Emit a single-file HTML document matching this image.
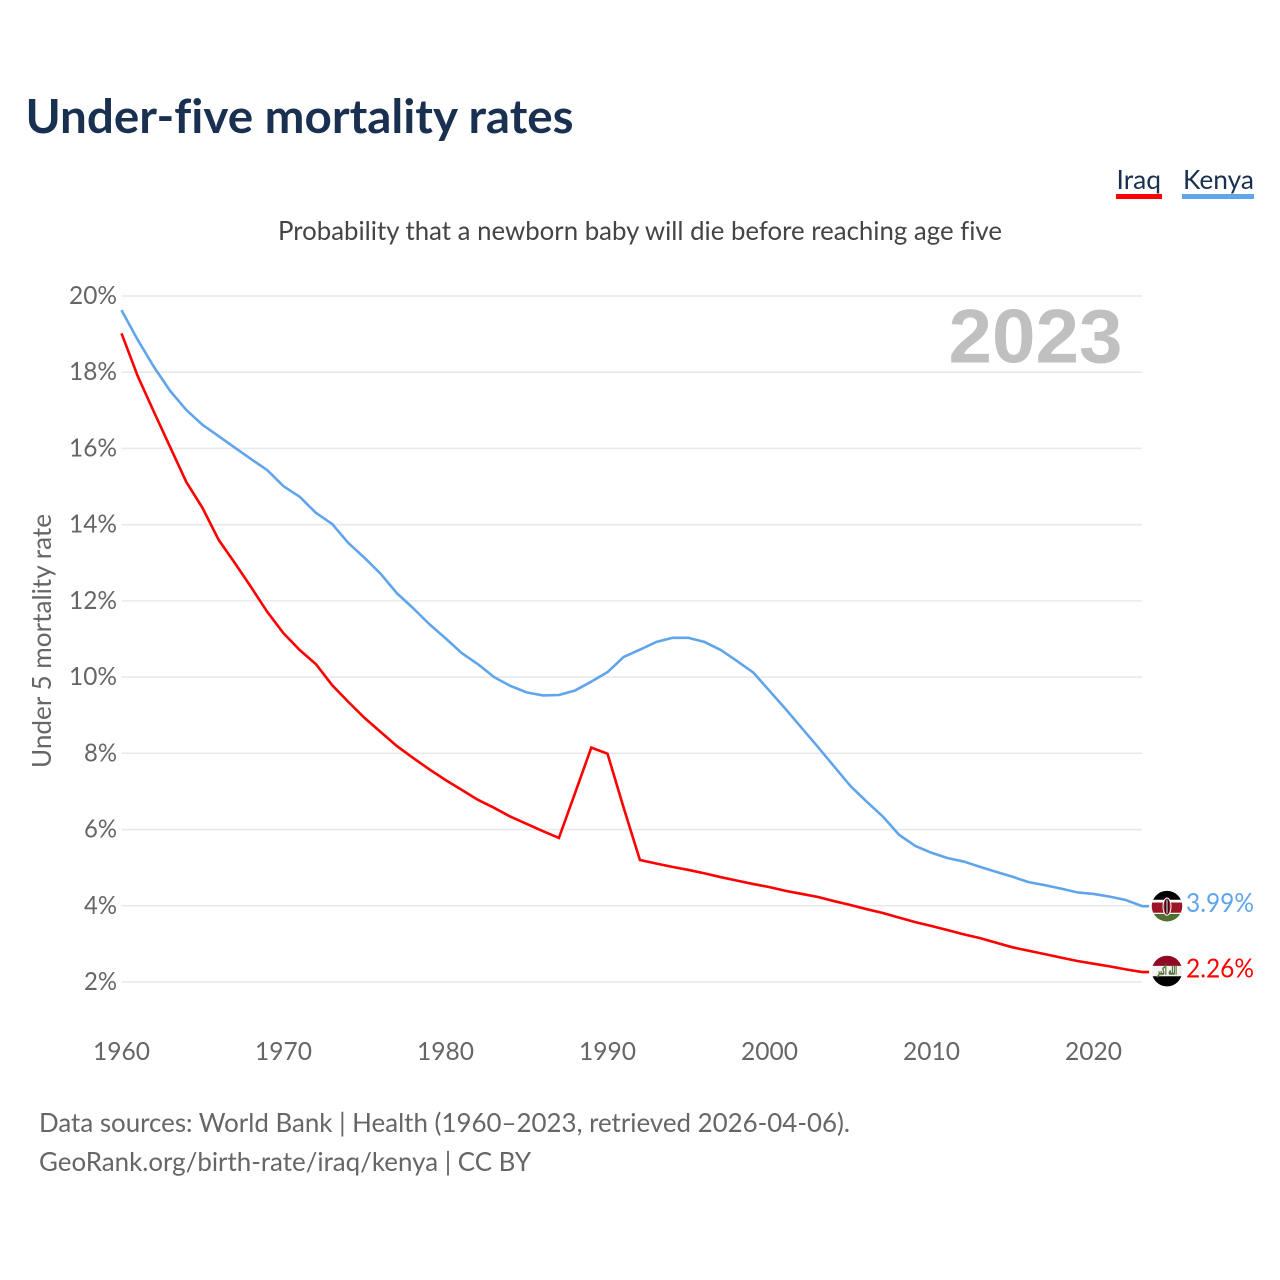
<!DOCTYPE html>
<html lang="en">
<head>
<meta charset="utf-8">
<title>Under-five mortality rates</title>
<style>
html,body{margin:0;padding:0;background:#fff;width:1280px;height:1280px;overflow:hidden}
svg{display:block}
text{font-family:"Lato","Carlito","Liberation Sans","DejaVu Sans",sans-serif;font-variant-ligatures:none;font-feature-settings:"liga" 0}
text.year{font-family:"Liberation Sans",sans-serif}
text.takbir{font-family:"DejaVu Sans",sans-serif}
</style>
</head>
<body>
<svg id="chart" xmlns="http://www.w3.org/2000/svg" width="1280" height="1280" viewBox="0 0 1280 1280">
  <defs>
    <clipPath id="flag-clip"><circle cx="0" cy="0" r="15.3"></circle></clipPath>
  </defs>
  <rect x="0" y="0" width="1280" height="1280" fill="#fff"></rect>
  <text x="25.5" y="133" font-size="46.5" font-weight="700" fill="#1a3050" textLength="548" lengthAdjust="spacingAndGlyphs">Under-five mortality rates</text>
  <text x="278" y="240" font-size="26.5" fill="#444" textLength="724" lengthAdjust="spacingAndGlyphs">Probability that a newborn baby will die before reaching age five</text>

  <g>
    <text x="1116.5" y="189" font-size="26.5" fill="#1a3050" textLength="44.5" lengthAdjust="spacingAndGlyphs">Iraq</text>
    <rect x="1116" y="194" width="46" height="5" fill="#ff0000"></rect>
  </g>
  <g>
    <text x="1183" y="189" font-size="26.5" fill="#1a3050" textLength="71" lengthAdjust="spacingAndGlyphs">Kenya</text>
    <rect x="1182" y="194" width="72" height="5" fill="#60a5ec"></rect>
  </g>

  <g id="grid"></g>
  <g id="y-ticks"></g>
  <g id="x-ticks"></g>
  <text class="year" x="948.5" y="362.5" font-size="76" font-weight="700" fill="#c0c0c0" textLength="174" lengthAdjust="spacingAndGlyphs">2023</text>
  <text transform="translate(51 768) rotate(-90)" x="0" y="0" font-size="26.5" fill="#666" textLength="254" lengthAdjust="spacingAndGlyphs">Under 5 mortality rate</text>

  <g id="series"></g>

  <g id="flag-kenya">
    <g clip-path="url(#flag-clip)">
      <rect x="-16" y="-16" width="32" height="32" fill="#fff"></rect>
      <rect x="-16" y="-16" width="32" height="9.6" fill="#000"></rect>
      <rect x="-16" y="-3.6" width="32" height="10.2" fill="#9b1626"></rect>
      <rect x="-16" y="7.8" width="32" height="8.2" fill="#4f7031"></rect>
      <ellipse cx="0" cy="0.5" rx="4" ry="8.6" fill="#9b1626" stroke="#fff" stroke-width="1"></ellipse>
      <rect x="-1.6" y="-6" width="3.2" height="13" fill="#000"></rect>
      <rect x="-0.5" y="-6" width="1" height="13" fill="#fff"></rect>
    </g>
  </g>
  <g id="flag-iraq">
    <g clip-path="url(#flag-clip)">
      <rect x="-16" y="-16" width="32" height="11" fill="#8f0a24"></rect>
      <rect x="-16" y="-5.2" width="32" height="10.6" fill="#f2f2f0"></rect>
      <rect x="-16" y="5.2" width="32" height="11" fill="#000"></rect>
      <text class="takbir" x="0" y="3.4" text-anchor="middle" direction="rtl" font-size="11" font-weight="700" fill="#4f7031" stroke="#4f7031" stroke-width="0.4" textLength="20" lengthAdjust="spacingAndGlyphs">الله أكبر</text>
    </g>
  </g>
  <g id="end-labels"></g>

  <text x="39" y="1132" font-size="26.5" fill="#666" textLength="811" lengthAdjust="spacingAndGlyphs">Data sources: World Bank | Health (1960–2023, retrieved 2026-04-06).</text>
  <text x="39" y="1171" font-size="26.5" fill="#666" textLength="492" lengthAdjust="spacingAndGlyphs">GeoRank.org/birth-rate/iraq/kenya | CC BY</text>
</svg>
<script>
const startYear = 1960;
const yTickValues = [20, 18, 16, 14, 12, 10, 8, 6, 4, 2];
const xTickYears = [1960, 1970, 1980, 1990, 2000, 2010, 2020];
const kenyaValues = [
  19.63,18.85,18.14,17.51,17.01,16.62,16.32,16.02,15.72,15.43,
  15.01,14.73,14.31,14.02,13.52,13.13,12.71,12.20,11.81,11.39,
  11.02,10.63,10.34,10.00,9.77,9.60,9.52,9.53,9.65,9.88,
  10.13,10.53,10.72,10.92,11.03,11.03,10.92,10.71,10.42,10.12,
  9.64,9.16,8.66,8.16,7.65,7.14,6.73,6.34,5.86,5.57,
  5.39,5.25,5.16,5.02,4.89,4.76,4.62,4.54,4.45,4.35,
  4.31,4.24,4.15,3.99
];
const iraqValues = [
  19.02,17.90,16.96,16.04,15.12,14.44,13.60,12.99,12.36,11.71,
  11.15,10.71,10.34,9.79,9.35,8.93,8.56,8.19,7.88,7.58,
  7.30,7.04,6.78,6.57,6.34,6.15,5.96,5.78,6.96,8.15,
  7.99,6.57,5.20,5.11,5.02,4.94,4.85,4.75,4.66,4.57,
  4.49,4.39,4.31,4.23,4.12,4.02,3.91,3.81,3.69,3.57,
  3.47,3.36,3.25,3.15,3.03,2.91,2.82,2.73,2.64,2.55,
  2.48,2.41,2.33,2.26
];

const NS = 'http://www.w3.org/2000/svg';
const xScale = function (year) { return 121.5 + (year - 1960) * 16.2; };
const yScale = function (v) { return 296 + (20 - v) * 38.11; };
const lastYear = startYear + kenyaValues.length - 1;

function make(tag, parent, attrs, content) {
  const el = document.createElementNS(NS, tag);
  Object.keys(attrs).forEach(function (k) { el.setAttribute(k, attrs[k]); });
  if (content !== undefined) el.textContent = content;
  parent.appendChild(el);
  return el;
}

const grid = document.getElementById('grid');
const yTicks = document.getElementById('y-ticks');
yTickValues.forEach(function (v) {
  const line = make('line', grid, { x1: xScale(1960), x2: xScale(lastYear), y1: yScale(v), y2: yScale(v), stroke: '#e9e9e9', 'stroke-width': 1.6 });
  
  
  const s = v + '%';
  const label = make('text', yTicks, { x: 117 - (s.length === 3 ? 48 : 33), y: yScale(v) + 8, 'font-size': 25.5, fill: '#666', textLength: s.length === 3 ? 48 : 33, lengthAdjust: 'spacingAndGlyphs' }, s);
  
  
});

const xTicks = document.getElementById('x-ticks');
xTickYears.forEach(function (yr) {
  const label = make('text', xTicks, { x: xScale(yr) - 28.5, y: 1060, 'font-size': 25.5, fill: '#666', textLength: 57, lengthAdjust: 'spacingAndGlyphs' }, String(yr));
  
  
});

function pathFor(values) {
  const d = values.map(function (v, i) {
    return (i ? 'L' : 'M') + xScale(startYear + i).toFixed(2) + ' ' + yScale(v).toFixed(2);
  }).join(' ');
  return d + ' L' + (xScale(lastYear) + 7).toFixed(2) + ' ' + yScale(values[values.length - 1]).toFixed(2);
}

const seriesGroup = document.getElementById('series');
const kenyaLine = make('path', seriesGroup, { d: pathFor(kenyaValues), fill: 'none', stroke: '#60a5ec', 'stroke-width': 2.6, 'stroke-linejoin': 'round' });


const iraqLine = make('path', seriesGroup, { d: pathFor(iraqValues), fill: 'none', stroke: '#ff0000', 'stroke-width': 2.6, 'stroke-linejoin': 'miter' });



const kenyaLast = kenyaValues[kenyaValues.length - 1];
const iraqLast = iraqValues[iraqValues.length - 1];
document.getElementById('flag-kenya').setAttribute('transform', 'translate(1167 ' + yScale(kenyaLast).toFixed(2) + ')');
document.getElementById('flag-iraq').setAttribute('transform', 'translate(1167 ' + (yScale(iraqLast) - 1).toFixed(2) + ')');

const endLabels = document.getElementById('end-labels');
const kenyaEnd = make('text', endLabels, { x: 1186, y: yScale(kenyaLast) + 6, 'font-size': 26, fill: '#60a5ec', textLength: 68, lengthAdjust: 'spacingAndGlyphs' }, kenyaLast.toFixed(2) + '%');


const iraqEnd = make('text', endLabels, { x: 1186, y: yScale(iraqLast) + 5.5, 'font-size': 26, fill: '#ff0000', textLength: 68, lengthAdjust: 'spacingAndGlyphs' }, iraqLast.toFixed(2) + '%');


</script>
</body>
</html>
